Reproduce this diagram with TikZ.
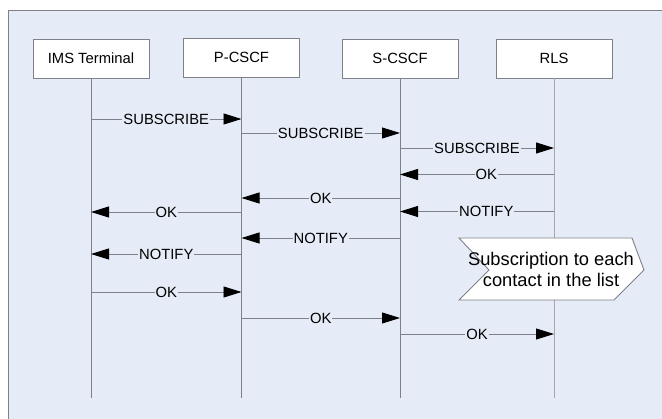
\documentclass[tikz,border=0pt]{standalone}
\usepackage{fontspec}
\setmainfont{Liberation Sans}
\usetikzlibrary{arrows.meta}
\usetikzlibrary{positioning}
\definecolor{panelbg}{RGB}{230,236,247}
\definecolor{rulegray}{RGB}{128,128,136}
\tikzstyle{entity} = [draw=rulegray, fill=white, minimum width=116pt,
minimum height=39pt, inner sep=0pt]
\tikzstyle{msg} = [draw=rulegray, -{Triangle[length=18pt,width=11pt,color=black]}]

\begin{document}
\begin{tikzpicture}[x=1pt, y=-1pt, line width=0.9pt,
	font=\fontsize{14.8}{17}\selectfont,
	lbl/.style={fill=panelbg, inner sep=1pt, text=black},
	life/.style={draw=rulegray}]
	\useasboundingbox (0,0) rectangle (662,419);
	% Panel
	\draw [draw=rulegray, fill=panelbg] (8,10) rectangle (700,460);
	% Entities
	\node [entity] at (91,58.5) (ims) {IMS Terminal};
	\node [entity] at (241.5,57.5) (pcscf) {P-CSCF};
	\node [entity] at (400,58.5) (scscf) {S-CSCF};
	\node [entity] at (554,58.5) (rls) {RLS};
	% Lifelines
	\coordinate (imsEnd) at (ims.south |- 0,398);
	\coordinate (pcscfEnd) at (pcscf.south |- 0,398);
	\coordinate (scscfEnd) at (scscf.south |- 0,398);
	\coordinate (rlsEnd) at (rls.south |- 0,398);
	\path [life] (ims.south) -- (imsEnd);
	\path [life] (pcscf.south) -- (pcscfEnd);
	\path [life] (scscf.south) -- (scscfEnd);
	\path [life, draw=rulegray!70] (rls.south) -- (rlsEnd);
	%% Messages
	% Subscription
	\path [msg] (ims |- 0,119) to node [lbl] {SUBSCRIBE} (pcscf |- 0,119);
	\path [msg] (pcscf |- 0,133) to node [lbl] {SUBSCRIBE} (scscf |- 0,133);
	\path [msg] (scscf |- 0,148) to node [lbl] {SUBSCRIBE} (rls |- 0,148);
	\path [msg] (rls |- 0,174.5) to node [lbl, pos=0.44] {OK} (scscf |- 0,174.5);
	\path [msg] (scscf |- 0,198) to node [lbl] {OK} (pcscf |- 0,198);
	\path [msg] (pcscf |- 0,212) to node [lbl] {OK} (ims |- 0,212);
	% Notification
	\path [msg] (rls |- 0,211.5) to node [lbl, pos=0.44] {NOTIFY} (scscf |- 0,211.5);
	\path [msg] (scscf |- 0,238) to node [lbl] {NOTIFY} (pcscf |- 0,238);
	\path [msg] (pcscf |- 0,254) to node [lbl] {NOTIFY} (ims |- 0,254);
	\path [msg] (ims |- 0,292) to node [lbl] {OK} (pcscf |- 0,292);
	\path [msg] (pcscf |- 0,318) to node [lbl] {OK} (scscf |- 0,318);
	\path [msg] (scscf |- 0,334) to node [lbl] {OK} (rls |- 0,334);
	% Subscription to the list contacts
	\draw [draw=rulegray, fill=white] (459,238) -- (632,238) -- (644,270)
		-- (614,300) -- (459,300) -- (489,270) -- cycle;
	\node [align=center, font=\fontsize{18.3}{21}\selectfont] at (551,269) (sublist)
		{Subscription to each\\contact in the list};
\end{tikzpicture}
\end{document}
